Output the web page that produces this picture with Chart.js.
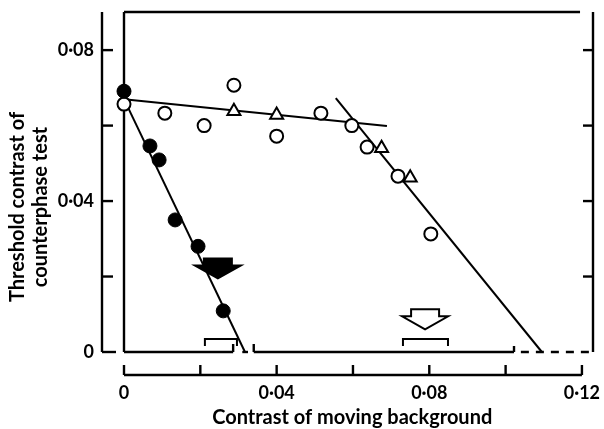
<!DOCTYPE html>
<html>
<head>
<meta charset="utf-8">
<script src="https://cdn.jsdelivr.net/npm/chart.js@4.4.1/dist/chart.umd.min.js"></script>
<style>
  html, body { margin: 0; padding: 0; background: #fff; }
  canvas { display: block; }
</style>
</head>
<body>
<canvas id="plot" width="604" height="429"></canvas>
<script>
// data
const filledX = [0, 0.0068, 0.0092, 0.0134, 0.0194, 0.0260];
const filledY = [0.0691, 0.0546, 0.0509, 0.0350, 0.0280, 0.0109];
const openX = [0, 0.0107, 0.0210, 0.0288, 0.0400, 0.0516, 0.0597, 0.0637, 0.0718, 0.0804];
const openY = [0.0657, 0.0633, 0.0600, 0.0707, 0.0572, 0.0633, 0.0600, 0.0543, 0.0466, 0.0313];
const triX = [0.0288, 0.0400, 0.0675, 0.0750];
const triY = [0.0638, 0.0628, 0.0540, 0.0462];

// fitted lines (end points)
const fitFilledX = [0, 0.0317];
const fitFilledY = [0.0670, 0];
const fitFlatX = [0, 0.0689];
const fitFlatY = [0.0670, 0.0599];
const fitSteepX = [0.0555, 0.1095];
const fitSteepY = [0.0673, 0];

// arrows and brackets
const arrowX = [0.0246, 0.0789];
const arrowFilled = [true, false];
const arrowTipY = [0.0195, 0.0060];
const bracketLo = [0.0212, 0.0731];
const bracketHi = [0.0296, 0.0849];

const xTicks = [0, 0.02, 0.04, 0.06, 0.08, 0.10, 0.12];
const xTickLabels = ['0', '', '0·04', '', '0·08', '', '0·12'];
const yTicks = [0, 0.02, 0.04, 0.06, 0.08];
const yTickLabels = ['0', '', '0·04', '', '0·08'];

const xTitle = 'Contrast of moving background';
const yTitle = ['Threshold contrast of', 'counterphase test'];

const FONT = 'bold 18px Lato, "Open Sans", sans-serif';
const TITLE_FONT = 'bold 20px Lato, "Open Sans", sans-serif';

function pts(xs, ys) {
    return xs.map((x, i) => ({ x: x, y: ys[i] }));
}

const axesPlugin = {
    id: 'oldAxes',
    beforeDatasetsDraw(chart) {
        const ctx = chart.ctx;
        const xs = chart.scales.x, ys = chart.scales.y;
        const a = chart.chartArea;
        const X = v => xs.getPixelForValue(v);
        const Y = v => ys.getPixelForValue(v);
        ctx.save();
        ctx.strokeStyle = '#000';
        ctx.lineWidth = 2.4;
        ctx.lineCap = 'butt';
        function seg(x1, y1, x2, y2) {
            ctx.beginPath(); ctx.moveTo(x1, y1); ctx.lineTo(x2, y2); ctx.stroke();
        }
        // frame left + top
        seg(a.left, a.bottom, a.left, a.top);
        seg(a.left, a.top, X(0.1195), a.top);
        // right axis with inward ticks
        seg(a.right, a.top, a.right, a.bottom);
        yTicks.slice(1).forEach(v => seg(a.right, Y(v), a.right - 10, Y(v)));
        // broken bottom line
        seg(a.left, a.bottom, X(0.0286), a.bottom);
        seg(X(0.0286), a.bottom, X(0.0286), a.bottom - 8);
        seg(X(0.0310), a.bottom, X(0.0325), a.bottom);
        seg(X(0.0340), a.bottom - 8, X(0.0340), a.bottom);
        seg(X(0.0340), a.bottom, X(0.1022), a.bottom);
        seg(X(0.1022), a.bottom, X(0.1022), a.bottom - 6);
        ctx.setLineDash([8, 7]);
        seg(X(0.1040), a.bottom, a.right - 2, a.bottom);
        ctx.setLineDash([]);

        // offset y axis on the left
        const yax = a.left - 22;
        seg(yax, a.top, yax, Y(0));
        yTicks.forEach(v => seg(yax, Y(v), yax + (v === 0 ? 14 : 11), Y(v)));
        // offset x axis below
        const xax = a.bottom + 23;
        seg(X(0), xax, X(0.12), xax);
        xTicks.forEach(v => seg(X(v), xax, X(v), xax - 10));

        // tick labels
        ctx.fillStyle = '#000';
        ctx.font = FONT;
        ctx.textAlign = 'right';
        ctx.textBaseline = 'middle';
        yTicks.forEach((v, i) => ctx.fillText(yTickLabels[i], yax - 8, Y(v)));
        ctx.textAlign = 'center';
        xTicks.forEach((v, i) => ctx.fillText(xTickLabels[i], X(v), xax + 18));

        // titles
        ctx.font = TITLE_FONT;
        ctx.fillText(xTitle, X(0.0598), 418);
        ctx.save();
        ctx.translate(18, 207);
        ctx.rotate(-Math.PI / 2);
        ctx.fillText(yTitle[0], 0, 0);
        ctx.fillText(yTitle[1], 0, 23);
        ctx.restore();

        // brackets
        ctx.lineWidth = 2;
        const by = a.bottom - 13;
        bracketLo.forEach((lo, i) => {
            ctx.beginPath();
            ctx.moveTo(X(lo), by + 7);
            ctx.lineTo(X(lo), by);
            ctx.lineTo(X(bracketHi[i]), by);
            ctx.lineTo(X(bracketHi[i]), by + 7);
            ctx.stroke();
        });
        ctx.restore();
    },
    afterDatasetsDraw(chart) {
        const ctx = chart.ctx;
        const X = v => chart.scales.x.getPixelForValue(v);
        const Y = v => chart.scales.y.getPixelForValue(v);
        ctx.save();
        ctx.lineWidth = 2;
        ctx.strokeStyle = '#000';
        arrowX.forEach((xv, i) => {
            const cx = X(xv), tip = Y(arrowTipY[i]);
            ctx.beginPath();
            ctx.moveTo(cx, tip);
            ctx.lineTo(cx - 23, tip - 13);
            ctx.lineTo(cx - 14, tip - 13);
            ctx.lineTo(cx - 14, tip - 20);
            ctx.lineTo(cx + 14, tip - 20);
            ctx.lineTo(cx + 14, tip - 13);
            ctx.lineTo(cx + 23, tip - 13);
            ctx.closePath();
            ctx.fillStyle = arrowFilled[i] ? '#000' : '#fff';
            ctx.fill();
            ctx.stroke();
        });
        ctx.restore();
    }
};

const lineStyle = {
    showLine: true, borderColor: '#000', borderWidth: 2,
    pointRadius: 0, fill: false, order: 5
};

new Chart(document.getElementById('plot').getContext('2d'), {
    type: 'scatter',
    data: {
        datasets: [
            Object.assign({ data: pts(fitFilledX, fitFilledY) }, lineStyle),
            Object.assign({ data: pts(fitFlatX, fitFlatY) }, lineStyle),
            Object.assign({ data: pts(fitSteepX, fitSteepY) }, lineStyle),
            {
                data: pts(openX, openY), order: 1,
                pointStyle: 'circle', pointRadius: 6.5,
                backgroundColor: '#fff', borderColor: '#000', borderWidth: 2
            },
            {
                data: pts(triX, triY), order: 1,
                pointStyle: 'triangle', pointRadius: 7.5,
                backgroundColor: '#fff', borderColor: '#000', borderWidth: 2
            },
            {
                data: pts(filledX, filledY), order: 0,
                pointStyle: 'circle', pointRadius: 7,
                backgroundColor: '#000', borderColor: '#000', borderWidth: 1
            }
        ]
    },
    options: {
        responsive: false,
        animation: false,
        clip: false,
        layout: { padding: { left: 124, right: 11, top: 12, bottom: 77 } },
        scales: {
            x: { type: 'linear', min: 0, max: 0.1229, display: false },
            y: { type: 'linear', min: 0, max: 0.0901, display: false }
        },
        plugins: {
            legend: { display: false },
            tooltip: { enabled: false }
        }
    },
    plugins: [axesPlugin]
});
</script>
</body>
</html>
